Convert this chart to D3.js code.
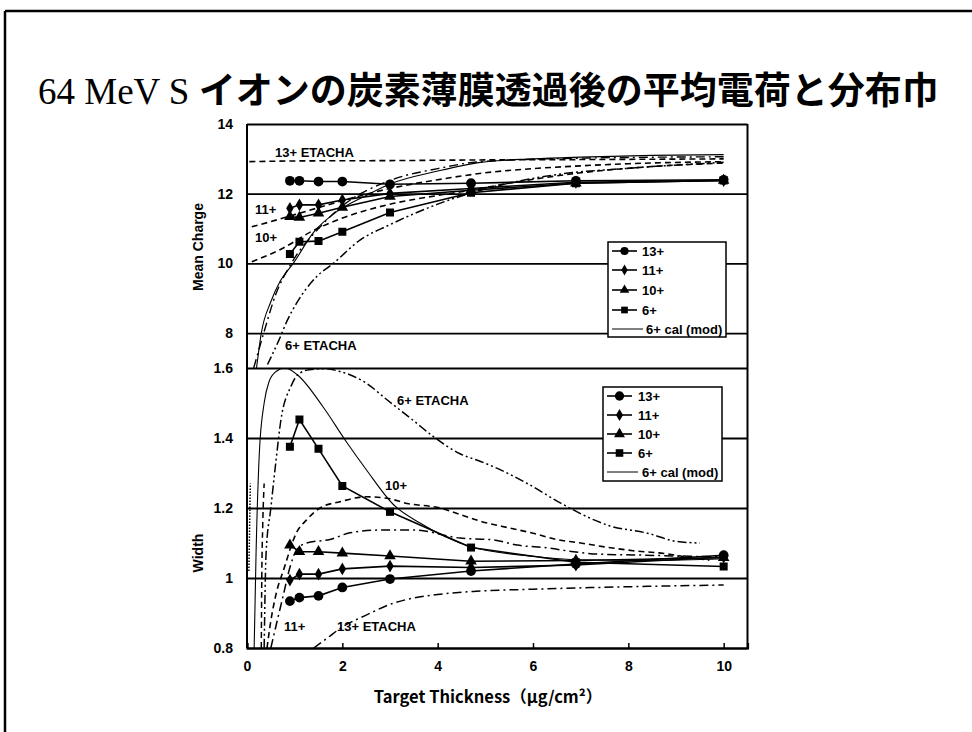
<!DOCTYPE html>
<html><head><meta charset="utf-8">
<script src="https://cdn.jsdelivr.net/npm/d3@7"></script>
<style>
body{margin:0;background:#fff;}
svg text{font-family:"Liberation Sans",Arial,sans-serif;font-weight:bold;fill:#000;}
</style></head><body>
<svg id="c" width="972" height="732"></svg>
<script>
// ---------- data ----------
const titleLatin = "64 MeV S ";
const titleJa = "イオンの炭素薄膜透過後の平均電荷と分布巾";
const xLabel = "Target Thickness（μg/cm²）";
const xTicks = [0, 2, 4, 6, 8, 10];
const chargeTicks = [8, 10, 12, 14];
const widthTicks = [0.8, 1, 1.2, 1.4, 1.6];
const seriesNames = ["13+", "11+", "10+", "6+"];

const thickness = [0.9, 1.1, 1.5, 2.0, 3.0, 4.7, 6.9, 10.0];
// mean charge (measured)
const charge13 = [12.37, 12.37, 12.35, 12.35, 12.27, 12.30, 12.37, 12.40];
const charge11 = [11.58, 11.68, 11.68, 11.82, 12.01, 12.15, 12.33, 12.38];
const charge10 = [11.34, 11.32, 11.44, 11.61, 11.92, 12.10, 12.30, 12.38];
const charge6  = [10.27, 10.62, 10.64, 10.91, 11.46, 12.03, 12.30, 12.38];
// width (measured)
const width13 = [0.934, 0.944, 0.949, 0.973, 0.997, 1.020, 1.040, 1.065];
const width11 = [0.994, 1.011, 1.011, 1.026, 1.034, 1.030, 1.037, 1.060];
const width10 = [1.094, 1.075, 1.075, 1.071, 1.063, 1.048, 1.050, 1.058];
const width6  = [1.375, 1.453, 1.369, 1.263, 1.189, 1.087, 1.045, 1.033];

// calculated curves: [thickness, value]
const chargeEtacha13 = [[0.05,12.92],[1,12.94],[3,12.95],[5,12.97],[7,12.98],[10,13.0]];
const chargeEtacha11 = [[0.1,11.05],[0.5,11.2],[1,11.4],[1.5,11.6],[2,11.8],[3,12.15],[4,12.4],[5,12.6],[6,12.72],[7,12.8],[8,12.86],[10,12.92]];
const chargeEtacha10 = [[0.1,10.05],[0.7,10.4],[1.4,10.95],[2,11.3],[3,11.7],[4,11.95],[4.6,12.08],[5.5,12.3],[7,12.6],[8.5,12.78],[10,12.88]];
const chargeCal6 = [[0.2,7.0],[0.3,8.0],[0.5,8.9],[0.7,9.5],[0.97,10.0],[1.4,10.9],[1.9,11.5],[2.5,11.95],[3,12.28],[4,12.65],[4.9,12.9],[6,13.0],[7,13.05],[8.5,13.1],[10,13.12]];
const chargeEtachaFast = [[0.14,7.0],[0.35,8.0],[0.6,9.1],[0.93,10.0],[1.5,11.0],[2,11.65],[3,12.38],[4,12.72],[4.9,12.92],[7,13.02],[10,13.06]];
const chargeEtacha6 = [[0.43,7.1],[0.67,7.8],[0.85,8.38],[1.04,8.86],[1.46,9.62],[1.81,10.0],[2.37,10.67],[2.98,11.1],[4,11.7],[4.9,12.1],[6.5,12.55],[8,12.73],[10,12.9]];

const widthCal6 = [[0.15,0.8],[0.19,1.07],[0.26,1.36],[0.36,1.5],[0.46,1.56],[0.61,1.59],[0.8,1.6],[1.06,1.58],[1.59,1.49],[2.08,1.39],[2.5,1.31],[3.07,1.21],[3.63,1.157],[4.68,1.09],[6,1.062],[7,1.052],[8.5,1.05],[10,1.055]];
const widthEtacha6 = [[0.36,0.8],[0.4,1.07],[0.5,1.2],[0.61,1.337],[0.71,1.45],[0.92,1.547],[1.06,1.58],[1.3,1.595],[1.6,1.598],[1.95,1.59],[2.5,1.557],[2.93,1.51],[3.49,1.45],[3.91,1.404],[4.47,1.355],[4.9,1.333],[5.17,1.318],[5.88,1.27],[6.58,1.214],[7.28,1.166],[7.56,1.151],[8.4,1.128],[9.03,1.104],[9.5,1.1]];
const widthEtacha10 = [[0.42,0.8],[0.48,0.86],[0.62,0.96],[0.76,1.02],[1.04,1.13],[1.25,1.166],[1.53,1.2],[1.95,1.218],[2.5,1.232],[2.93,1.228],[3.36,1.213],[4.05,1.2],[4.5,1.18],[4.93,1.161],[5.5,1.143],[6,1.128],[6.5,1.11],[7,1.1],[7.5,1.089],[8.1,1.078],[8.75,1.07],[9.4,1.056],[9.7,1.051]];
const widthEtacha11 = [[0.5,0.8],[0.62,0.87],[0.76,0.95],[0.9,1.03],[1.04,1.08],[1.25,1.1],[1.74,1.11],[2.16,1.129],[2.8,1.137],[3.5,1.137],[4.47,1.114],[5.17,1.109],[5.67,1.094],[6.3,1.086],[6.85,1.075],[7.4,1.068],[8.1,1.066],[9,1.063],[10,1.06]];
const widthEtacha13 = [[1.4,0.8],[1.7,0.83],[2.0,0.86],[2.5,0.894],[3.07,0.928],[3.5,0.943],[4,0.953],[4.8,0.962],[6,0.968],[8,0.975],[10,0.98]];
const widthSteepDashed = [[0.3,0.8],[0.31,1.0],[0.33,1.15],[0.36,1.27]];
const widthSteepDotted = [[0.04,1.02],[0.055,1.15],[0.07,1.27]];

// ---------- drawing ----------
const svg = d3.select("#c");
const x = d3.scaleLinear([0, 10.5], [247, 747.5]);
const yTop = d3.scaleLinear([7, 14], [368, 124]);
const yBot = d3.scaleLinear([0.8, 1.6], [648, 368]);

// outer frame
svg.append("line").attr("x1",5).attr("x2",972).attr("y1",11).attr("y2",11).attr("stroke","#000").attr("stroke-width",2.5);
svg.append("line").attr("x1",5).attr("x2",5).attr("y1",11).attr("y2",732).attr("stroke","#000").attr("stroke-width",2.5);

// title
const t = svg.append("text").attr("x",38).attr("y",104).style("font-size","37px");
t.append("tspan").text(titleLatin).style("font-family","'Liberation Serif','Times New Roman',serif").style("font-weight","normal");
t.append("tspan").text(titleJa).style("font-family","'Noto Sans CJK JP',sans-serif").style("font-weight","bold");

const defs = svg.append("defs");
defs.append("clipPath").attr("id","clipTop").append("rect")
  .attr("x",x(0)).attr("y",yTop(14)).attr("width",x(10.5)-x(0)).attr("height",yTop(7)-yTop(14));
defs.append("clipPath").attr("id","clipBot").append("rect")
  .attr("x",x(0)).attr("y",yBot(1.6)).attr("width",x(10.5)-x(0)).attr("height",yBot(0.8)-yBot(1.6));

function panel(y, ticks, fmt, clipId) {
  const g = svg.append("g");
  g.append("g").attr("transform",`translate(${x(0)},0)`)
    .call(d3.axisLeft(y).tickValues(ticks).tickSize(-(x(10.5)-x(0))).tickFormat(""))
    .call(s=>s.select(".domain").remove())
    .call(s=>s.selectAll("line").attr("stroke","#000").attr("stroke-width",1.8));
  g.append("g").attr("transform",`translate(${x(0)},0)`)
    .call(d3.axisLeft(y).tickValues(ticks).tickSize(0).tickPadding(14).tickFormat(fmt))
    .call(s=>s.select(".domain").remove())
    .call(s=>s.selectAll("text").style("font-size","14px").style("font-family","'Liberation Sans',Arial,sans-serif").style("font-weight","bold"));
  const [y0,y1] = y.range();
  g.append("line").attr("x1",x(0)).attr("x2",x(0)).attr("y1",y0).attr("y2",y1).attr("stroke","#000").attr("stroke-width",2);
  g.append("line").attr("x1",x(10.5)).attr("x2",x(10.5)).attr("y1",y0).attr("y2",y1).attr("stroke","#000").attr("stroke-width",2);
  return svg.append("g").attr("clip-path",`url(#${clipId})`);
}

const topPlot = panel(yTop, chargeTicks, d3.format("d"), "clipTop");
const botPlot = panel(yBot, widthTicks, d=> d===1 ? "1" : d3.format(".1f")(d), "clipBot");

// x axis
svg.append("g").attr("transform",`translate(0,${yBot(0.8)})`)
  .call(d3.axisBottom(x).tickValues(xTicks).tickSize(-5).tickPadding(13).tickFormat(d3.format("d")))
  .call(s=>s.select(".domain").attr("stroke","#000").attr("stroke-width",2.2))
  .call(s=>s.selectAll("line").attr("stroke","#000").attr("stroke-width",1.5))
  .call(s=>s.selectAll("text").style("font-size","14px").style("font-family","'Liberation Sans',Arial,sans-serif").style("font-weight","bold"));

// axis titles
svg.append("text").attr("transform","translate(203,247) rotate(-90)").attr("text-anchor","middle").style("font-size","14px").text("Mean Charge");
svg.append("text").attr("transform","translate(203,553) rotate(-90)").attr("text-anchor","middle").style("font-size","14px").text("Width");
svg.append("text").attr("x",488).attr("y",703).attr("text-anchor","middle").style("font-size","16.5px")
  .style("font-family","'Noto Sans CJK JP','Liberation Sans',sans-serif").text(xLabel);

// curves
const styles = { dash: "6,4", dashdot: "9,4,2,4", dashdotdot: "9,3,2,3,2,3", dot: "1.5,1.5" };
function curve(plot, y, data, dash, w) {
  plot.append("path").datum(data)
    .attr("d", d3.line().x(d=>x(d[0])).y(d=>y(d[1])).curve(d3.curveMonotoneX))
    .attr("fill","none").attr("stroke","#000").attr("stroke-width", w || 1.5)
    .attr("stroke-dasharray", dash || null);
}
curve(topPlot, yTop, chargeEtacha13, styles.dash, 1.6);
curve(topPlot, yTop, chargeEtacha11, styles.dash, 1.6);
curve(topPlot, yTop, chargeEtacha10, styles.dash, 1.6);
curve(topPlot, yTop, chargeEtachaFast, styles.dashdot, 1.4);
curve(topPlot, yTop, chargeEtacha6, styles.dashdotdot, 1.5);
curve(topPlot, yTop, chargeCal6, null, 1.1);

curve(botPlot, yBot, widthEtacha13, styles.dashdot, 1.5);
curve(botPlot, yBot, widthEtacha11, styles.dashdot, 1.5);
curve(botPlot, yBot, widthEtacha10, styles.dash, 1.6);
curve(botPlot, yBot, widthEtacha6, styles.dashdotdot, 1.5);
curve(botPlot, yBot, widthSteepDashed, styles.dash, 1.5);
curve(botPlot, yBot, widthSteepDotted, styles.dot, 1.5);
curve(botPlot, yBot, widthCal6, null, 1.1);

// measured series
const symbols = {"13+": d3.symbolCircle, "11+": d3.symbolDiamond, "10+": d3.symbolTriangle, "6+": d3.symbolSquare};
const symSize = {"13+": 75, "11+": 48, "10+": 58, "6+": 64};
function series(plot, y, vals, name) {
  const pts = thickness.map((t,i)=>[t, vals[i]]);
  plot.append("path").datum(pts)
    .attr("d", d3.line().x(d=>x(d[0])).y(d=>y(d[1])))
    .attr("fill","none").attr("stroke","#000").attr("stroke-width",1.6);
  plot.selectAll(null).data(pts).enter().append("path")
    .attr("transform", d=>`translate(${x(d[0])},${y(d[1])})`)
    .attr("d", d3.symbol(symbols[name], symSize[name]))
    .attr("fill","#000");
}
const chargeSeries = [charge13, charge11, charge10, charge6];
const widthSeries = [width13, width11, width10, width6];
seriesNames.forEach((n,i)=>series(topPlot, yTop, chargeSeries[i], n));
seriesNames.forEach((n,i)=>series(botPlot, yBot, widthSeries[i], n));

// annotations
function label(txt, xx, yy, size) {
  svg.append("text").attr("x",xx).attr("y",yy).style("font-size",(size||13)+"px").text(txt);
}
label("13+ ETACHA", 275, 157);
label("11+", 255, 214);
label("10+", 255, 242);
label("6+ ETACHA", 285, 350);
label("6+ ETACHA", 397, 405);
label("10+", 385, 490);
label("11+", 284, 631);
label("13+ ETACHA", 337, 631);

// legends
function legend(x0, y0, w, h, rowYs, lineX0, lineX1, textX, symScale) {
  const g = svg.append("g");
  g.append("rect").attr("x",x0).attr("y",y0).attr("width",w).attr("height",h)
    .attr("fill","#fff").attr("stroke","#000").attr("stroke-width",1.5);
  seriesNames.forEach((n,i)=>{
    const yy = rowYs[i];
    g.append("line").attr("x1",lineX0).attr("x2",lineX1).attr("y1",yy).attr("y2",yy).attr("stroke","#000").attr("stroke-width",1.6);
    g.append("path").attr("transform",`translate(${(lineX0+lineX1)/2},${yy})`)
      .attr("d", d3.symbol(symbols[n], symSize[n]*symScale)).attr("fill","#000");
    g.append("text").attr("x",textX).attr("y",yy+5).style("font-size","13px").text(n);
  });
  const yy = rowYs[4];
  g.append("line").attr("x1",lineX0).attr("x2",lineX1+6).attr("y1",yy).attr("y2",yy).attr("stroke","#000").attr("stroke-width",1);
  g.append("text").attr("x",textX+4).attr("y",yy+5).style("font-size","13px").text("6+ cal (mod)");
}
legend(608, 242, 118, 95, [251, 270, 290, 310, 329], 612, 637, 642, 0.7);
legend(603, 387, 119, 94, [396, 415, 434, 453, 472], 607, 632, 638, 0.9);
</script>
</body></html>
